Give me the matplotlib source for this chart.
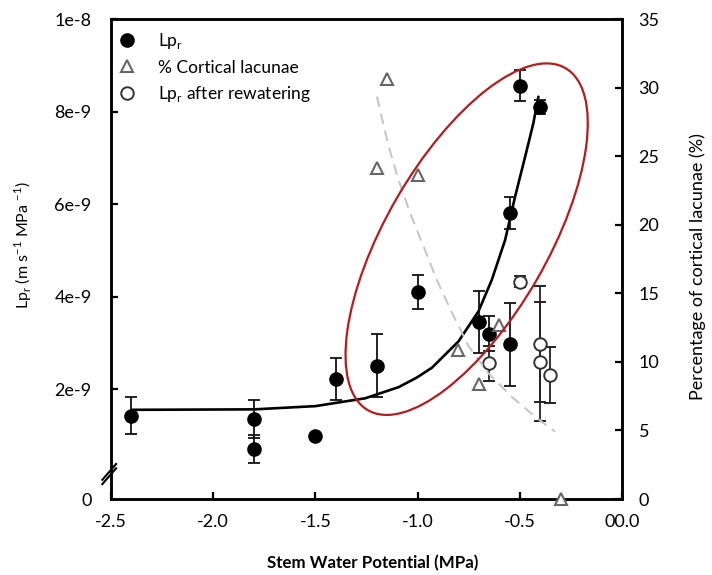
import matplotlib
matplotlib.use("Agg")
import matplotlib.pyplot as plt
from matplotlib.lines import Line2D
from matplotlib.patches import Ellipse
import matplotlib.transforms as mtransforms

plt.rcParams['font.family'] = ['Lato', 'DejaVu Sans']
plt.rcParams['mathtext.fontset'] = 'custom'
plt.rcParams['mathtext.rm'] = 'Lato'

# ---- data (Lp_r in units of 1e-9 m s-1 MPa-1) ----
lpr_x = [-2.4, -1.8, -1.8, -1.5, -1.4, -1.2, -1.0, -0.70, -0.65, -0.55, -0.55, -0.5, -0.4]
lpr_y = [1.42, 1.35, 0.70, 0.98, 2.22, 2.50, 4.10, 3.45, 3.20, 2.97, 5.81, 8.56, 8.10]
lpr_err = [0.40, 0.41, 0.31, 0.05, 0.46, 0.68, 0.37, 0.67, 0.38, 0.90, 0.35, 0.33, 0.15]

rew_x = [-0.65, -0.5, -0.4, -0.4, -0.35]
rew_y = [2.56, 4.32, 2.97, 2.59, 2.30]
rew_err = [0.38, 0.12, 1.26, 1.29, 0.60]

lac_x = [-1.2, -1.15, -1.0, -0.8, -0.7, -0.6, -0.3]
lac_y = [24.1, 30.6, 23.6, 10.9, 8.4, 12.7, 0.0]

# fitted trend lines
fit_lpr_x = [-2.40, -1.80, -1.50, -1.40, -1.256, -1.093, -1.003, -0.930, -0.800,
             -0.702, -0.637, -0.572, -0.523, -0.474, -0.434, -0.409]
fit_lpr_y = [1.55, 1.56, 1.63, 1.70, 1.80, 2.04, 2.25, 2.46, 3.03,
             3.68, 4.36, 5.22, 6.16, 7.02, 7.74, 8.32]
fit_lac_x = [-1.199, -1.142, -1.093, -1.036, -0.971, -0.906, -0.832, -0.751,
             -0.653, -0.539, -0.425, -0.327]
fit_lac_y = [29.34, 25.73, 23.26, 20.83, 18.41, 15.97, 13.58, 11.16,
             9.16, 7.45, 5.99, 4.91]

# highlighted region (ellipse centre in data units)
ell_center = (-0.76, 5.24)

x_ticks = [-2.5, -2.0, -1.5, -1.0, -0.5, 0.0]
x_ticklabels = ['-2.5', '-2.0', '-1.5', '-1.0', '-0.5', '00.0']
left_ticks = [2, 4, 6, 8, 10]
left_ticklabels = ['2e-9', '4e-9', '6e-9', '8e-9', '1e-8']
left_floor = -0.378          # broken axis: bottom shown as "0"
right_ticks = [0, 5, 10, 15, 20, 25, 30, 35]

# ---- figure ----
fig = plt.figure(figsize=(7.12, 5.75), dpi=100)
W, H = 712, 575
L, R, T, B = 111, 622, 19, 499
ax = fig.add_axes([L / W, (H - B) / H, (R - L) / W, (B - T) / H])
ax2 = ax.twinx()

ax.set_xlim(-2.5, 0.0)
ax.set_ylim(left_floor, 10)
ax2.set_ylim(0, 35)

# fit lines
ax.plot(fit_lpr_x, fit_lpr_y, color='black', lw=1.9, zorder=3,
        solid_capstyle='round', solid_joinstyle='round')
ax2.plot(fit_lac_x, fit_lac_y, color='#c4c4c4', lw=1.4, dashes=(5.5, 3.5), zorder=2)

# data
ax.errorbar(lpr_x, lpr_y, yerr=lpr_err, fmt='o', color='black', ms=9.5,
            ecolor='#111111', elinewidth=1.3, capsize=4.6, capthick=1.3, zorder=4)
ax.errorbar(rew_x, rew_y, yerr=rew_err, fmt='o', mfc='white', mec='#333333', mew=1.4,
            ms=9, ecolor='#222222', elinewidth=1.3, capsize=4.6, capthick=1.3, zorder=4)
ax2.plot(lac_x, lac_y, '^', mfc='white', mec='#666666', mew=1.5, ms=8.5,
         linestyle='none', zorder=5, clip_on=False)

# red ellipse (fixed size in inches at a data point)
trans = fig.dpi_scale_trans + mtransforms.ScaledTranslation(ell_center[0], ell_center[1], ax.transData)
ell = Ellipse((0, 0), width=3.95, height=1.62, angle=60, transform=trans,
              fill=False, edgecolor='#B21E1E', lw=1.6, zorder=6)
ax2.add_patch(ell)

# ticks
ax.set_xticks(x_ticks, x_ticklabels)
ax.set_yticks([left_floor] + left_ticks, ['0'] + left_ticklabels)
ax2.set_yticks(right_ticks, [str(v) for v in right_ticks])

for a in (ax, ax2):
    a.tick_params(direction='in', length=5, width=1.6, labelsize=13, colors='black')
    for s in a.spines.values():
        s.set_linewidth(1.8)
ax.tick_params(axis='x', pad=11)
ax.tick_params(axis='y', pad=14)
ax2.tick_params(axis='y', pad=12)
ax.yaxis.get_major_ticks()[0].tick1line.set_visible(False)

# axis break marks
for dy in (0.0, -0.009):
    ax.plot([-0.017, 0.010], [0.040 + dy, 0.073 + dy], transform=ax.transAxes,
            color='black', lw=1.5, clip_on=False, zorder=7)

# labels
ax.set_xlabel('Stem Water Potential (MPa)', fontsize=12.2, fontweight='bold')
ax.xaxis.set_label_coords(0.513, -0.117)
ax.set_ylabel(r'Lp$_\mathregular{r}$ (m s$^\mathregular{-1}$ MPa $^\mathregular{-1}$)', fontsize=11.5)
ax.yaxis.set_label_coords(-0.150, 0.529)
ax2.set_ylabel('Percentage of cortical lacunae (%)', fontsize=13)
ax2.yaxis.set_label_coords(1.132, 0.485)

# legend
handles = [
    Line2D([], [], marker='o', color='black', ls='none', ms=9.5),
    Line2D([], [], marker='^', mfc='white', mec='#666666', mew=1.5, ls='none', ms=8.5),
    Line2D([], [], marker='o', mfc='white', mec='#333333', mew=1.4, ls='none', ms=9),
]
labels = [r'Lp$_\mathregular{r}$', '% Cortical lacunae', r'Lp$_\mathregular{r}$ after rewatering']
leg = ax2.legend(handles, labels, loc='upper left', bbox_to_anchor=(-0.01, 0.997),
                 frameon=False, fontsize=12.5, handletextpad=1.2, labelspacing=0.5,
                 handlelength=1.2, borderaxespad=0.2)

fig.savefig('out.png', dpi=100)
